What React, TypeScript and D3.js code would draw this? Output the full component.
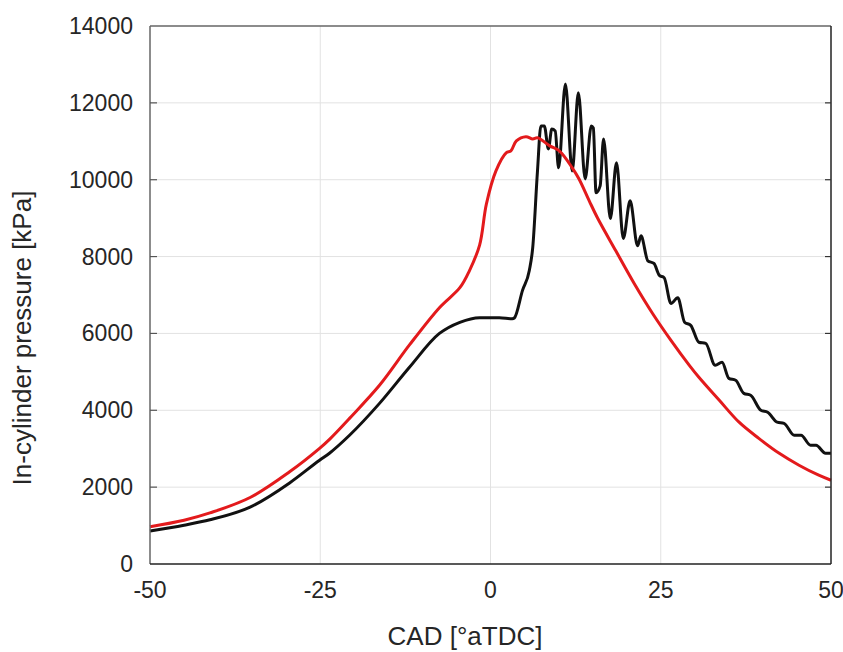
import React, { useEffect, useRef } from 'react';
import * as d3 from 'd3';

// crank angle [deg aTDC] and pressure [kPa]
const redCad = [-50, -45, -41.2, -35.3, -29.5, -25.1, -23.6, -20.7, -16.3, -11.9, -7.5, -4.5, -3.1, -1.6, -0.6, 0.8, 2.3, 3.0, 3.8, 5.2, 6.2, 6.9, 8.7, 10.1, 12.0, 13.0, 14.5, 15.7, 18.4, 21.1, 23.8, 26.5, 29.2, 30.6, 33.6, 36.5, 39.4, 42.4, 45.3, 48.2, 50];
const redP = [970, 1140, 1330, 1730, 2400, 3010, 3250, 3790, 4650, 5700, 6670, 7190, 7630, 8300, 9370, 10230, 10700, 10750, 11010, 11120, 11060, 11090, 10880, 10750, 10310, 10020, 9450, 9010, 8150, 7300, 6520, 5820, 5170, 4860, 4260, 3690, 3270, 2880, 2570, 2310, 2180];

const blackCad = [-50, -45, -41.2, -35.3, -29.5, -25.1, -23.6, -20.7, -16.3, -11.9, -7.5, -4.5, -1.6, 1.3, 3.2, 3.5, 4.7, 5.7, 6.2, 6.9, 7.4, 7.9, 8.5, 9.0, 9.5, 10.0, 11.0, 12.0, 12.9, 13.9, 14.8, 15.1, 15.5, 16.1, 16.6, 17.6, 18.5, 19.5, 20.5, 21.6, 22.1, 23.1, 24.0, 24.8, 25.5, 26.5, 27.5, 28.5, 29.4, 30.6, 31.6, 33.0, 34.0, 35.0, 36.0, 37.2, 38.2, 39.7, 40.7, 42.1, 43.1, 44.6, 45.6, 47.0, 47.8, 49.2, 50];
const blackP = [857, 1010, 1150, 1480, 2110, 2700, 2890, 3350, 4180, 5120, 6000, 6290, 6410, 6410, 6380, 6400, 7120, 7640, 8230, 10230, 11400, 11400, 10800, 11320, 11270, 10310, 12490, 10230, 12260, 10020, 11400, 11350, 9660, 9840, 11060, 8990, 10440, 8470, 9450, 8280, 8540, 7890, 7820, 7510, 7450, 6780, 6930, 6290, 6210, 5770, 5740, 5170, 5250, 4830, 4780, 4440, 4390, 4000, 3950, 3690, 3660, 3350, 3350, 3090, 3090, 2880, 2880];

const xTicks = [-50, -25, 0, 25, 50];
const yTicks = [0, 2000, 4000, 6000, 8000, 10000, 12000, 14000];

const App = () => {
  const ref = useRef<SVGSVGElement>(null);

  useEffect(() => {
    if (!ref.current) return;
    const svg = d3.select(ref.current);
    svg.selectAll('*').remove();

    const left = 150, right = 831, top = 26, bottom = 564;
    const font = 'Liberation Sans, Arial, Helvetica, sans-serif';

    const x = d3.scaleLinear().domain([-50, 50]).range([left, right]);
    const y = d3.scaleLinear().domain([0, 14000]).range([bottom, top]);

    // grid
    svg.append('g').selectAll('line').data(xTicks.slice(1, -1)).enter().append('line')
      .attr('x1', d => x(d)).attr('x2', d => x(d)).attr('y1', top).attr('y2', bottom)
      .attr('stroke', '#e2e2e2').attr('stroke-width', 1);
    svg.append('g').selectAll('line').data(yTicks.slice(1, -1)).enter().append('line')
      .attr('x1', left).attr('x2', right).attr('y1', d => y(d)).attr('y2', d => y(d))
      .attr('stroke', '#e2e2e2').attr('stroke-width', 1);

    // curves
    const jagged = d3.line<[number, number]>()
      .x(d => x(d[0])).y(d => y(d[1]))
      .curve(d3.curveMonotoneX);
    const smooth = d3.line<[number, number]>()
      .x(d => x(d[0])).y(d => y(d[1]))
      .curve(d3.curveCatmullRom.alpha(0.5));

    svg.append('path')
      .datum(blackCad.map((c, i) => [c, blackP[i]] as [number, number]))
      .attr('d', jagged).attr('fill', 'none')
      .attr('stroke', '#111111').attr('stroke-width', 3).attr('stroke-linejoin', 'round');

    svg.append('path')
      .datum(redCad.map((c, i) => [c, redP[i]] as [number, number]))
      .attr('d', smooth).attr('fill', 'none')
      .attr('stroke', '#e31a1c').attr('stroke-width', 3).attr('stroke-linejoin', 'round');

    // box
    svg.append('line').attr('x1', left).attr('x2', right).attr('y1', top).attr('y2', top)
      .attr('stroke', '#666').attr('stroke-width', 1.5);
    svg.append('line').attr('x1', left).attr('x2', left).attr('y1', top).attr('y2', bottom)
      .attr('stroke', '#666').attr('stroke-width', 1.5);
    svg.append('line').attr('x1', left).attr('x2', right).attr('y1', bottom).attr('y2', bottom)
      .attr('stroke', '#222').attr('stroke-width', 1.5);
    svg.append('line').attr('x1', right).attr('x2', right).attr('y1', top).attr('y2', bottom)
      .attr('stroke', '#222').attr('stroke-width', 1.5);

    // inward ticks
    svg.append('g').selectAll('line').data(yTicks.slice(1, -1)).enter().append('line')
      .attr('x1', left).attr('x2', left + 7).attr('y1', d => y(d)).attr('y2', d => y(d))
      .attr('stroke', '#555').attr('stroke-width', 1.2);
    svg.append('g').selectAll('line').data(yTicks.slice(1, -1)).enter().append('line')
      .attr('x1', right - 6).attr('x2', right).attr('y1', d => y(d)).attr('y2', d => y(d))
      .attr('stroke', '#333').attr('stroke-width', 1.2);

    // tick labels
    svg.append('g').selectAll('text').data(yTicks).enter().append('text')
      .attr('x', left - 17).attr('y', d => y(d) + 8)
      .attr('text-anchor', 'end').attr('font-family', font).attr('font-size', 23)
      .attr('fill', '#262626').text(d => String(d));
    svg.append('g').selectAll('text').data(xTicks).enter().append('text')
      .attr('x', d => x(d)).attr('y', bottom + 34)
      .attr('text-anchor', 'middle').attr('font-family', font).attr('font-size', 23)
      .attr('fill', '#262626').text(d => String(d));

    // axis labels
    svg.append('text').attr('x', 465).attr('y', 645)
      .attr('text-anchor', 'middle').attr('font-family', font).attr('font-size', 26)
      .attr('fill', '#262626').text('CAD [°aTDC]');
    svg.append('text')
      .attr('transform', `translate(31,338) rotate(-90)`)
      .attr('text-anchor', 'middle').attr('font-family', font).attr('font-size', 26)
      .attr('fill', '#262626').text('In-cylinder pressure [kPa]');
  }, []);

  return (
    <svg ref={ref} width={843} height={652}
      style={{ position: 'absolute', left: 0, top: 0, background: '#fff' }} />
  );
};

export default App;
